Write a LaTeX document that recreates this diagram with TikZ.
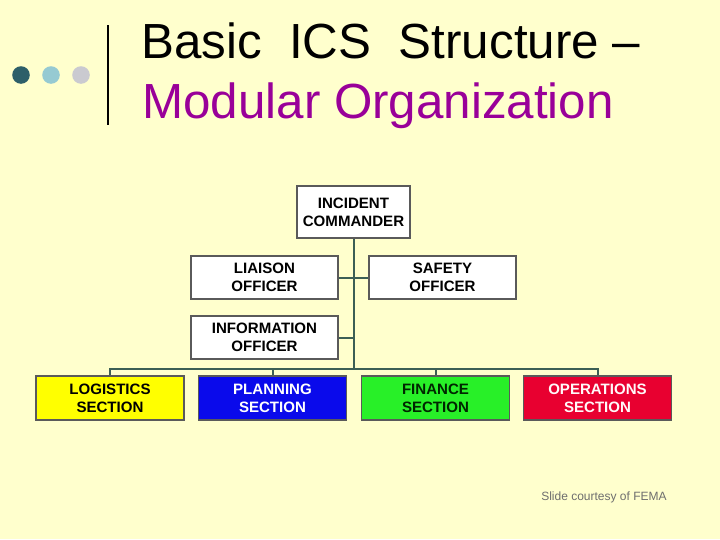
\documentclass[tikz,border=0pt]{standalone}
\usepackage{fontspec}
\setmainfont{Liberation Sans}
\definecolor{bgc}{RGB}{255,255,205}
\definecolor{titlepurple}{RGB}{153,0,153}
\definecolor{dotA}{RGB}{45,95,105}
\definecolor{dotB}{RGB}{150,202,210}
\definecolor{dotC}{RGB}{202,202,208}
\definecolor{linec}{RGB}{60,95,85}
\definecolor{boxline}{RGB}{90,90,90}
\definecolor{logc}{RGB}{255,255,0}
\definecolor{planc}{RGB}{10,10,235}
\definecolor{finc}{RGB}{40,240,40}
\definecolor{opsc}{RGB}{232,0,48}
\definecolor{footc}{RGB}{110,110,110}
\begin{document}
\begin{tikzpicture}[x=0.75pt,y=-0.75pt,
  boxfont/.style={font=\fontsize{11.3}{13.5}\selectfont\bfseries, align=center},
  officebox/.style={boxfont, draw=boxline, line width=0.8pt, fill=white, inner sep=0pt,
    minimum width=110.25pt, minimum height=32.25pt},
  sectbox/.style={boxfont, draw=boxline, line width=0.8pt, inner sep=0pt,
    minimum width=111pt, minimum height=33pt},
  conn/.style={draw=linec, line width=1.5pt}]
\fill[bgc] (0,0) rectangle (720,539);
\useasboundingbox (0,0) rectangle (720,539);
% decoration
\fill[dotA] (21,75) circle (6.6pt);
\fill[dotB] (51,75) circle (6.6pt);
\fill[dotC] (81,75) circle (6.6pt);
\draw[black, line width=2.1pt] (108,25) -- (108,125);
% title
\node[anchor=base west, inner sep=0pt, font=\fontsize{37}{40}\selectfont] (t1) at (141,58) {Basic\ \ ICS\ \ Structure –};
\node[anchor=base west, inner sep=0pt, font=\fontsize{37}{40}\selectfont, text=titlepurple] (t2) at (142,118) {Modular Organization};
% org chart nodes
\node[officebox, minimum width=84.75pt, minimum height=39pt] (ic) at (353.5,212) {INCIDENT\\COMMANDER};
\node[officebox] (lia) at (264.5,277.5) {LIAISON\\OFFICER};
\node[officebox] (saf) at (442.5,277.5) {SAFETY\\OFFICER};
\node[officebox] (info) at (264.5,337.5) {INFORMATION\\OFFICER};
\node[sectbox, fill=logc, text=black] (log) at (110,398) {LOGISTICS\\SECTION};
\node[sectbox, fill=planc, text=white] (plan) at (272.5,398) {PLANNING\\SECTION};
\node[sectbox, fill=finc, text=black!85!green] (fin) at (435.5,398) {FINANCE\\SECTION};
\node[sectbox, fill=opsc, text=white!90!pink] (ops) at (597.5,398) {OPERATIONS\\SECTION};
\coordinate (bus) at (353.5,369);
% connectors
\draw[conn] (ic.south) -- (bus);
\draw[conn] (lia.east) -- (saf.west);
\draw[conn] (info.east) -- (info.east -| bus);
\draw[conn] (log.north) |- (bus) -| (ops.north);
\draw[conn] (plan.north) -- (plan.north |- bus);
\draw[conn] (fin.north) -- (fin.north |- bus);
% footer
\node[anchor=base west, inner sep=0pt, font=\fontsize{9}{11}\selectfont, text=footc] (foot) at (541,500) {Slide courtesy of FEMA};
\end{tikzpicture}
\end{document}
